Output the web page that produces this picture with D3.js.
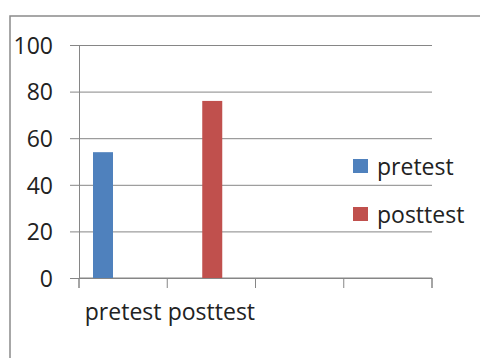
<!DOCTYPE html>
<html>
<head>
<meta charset="utf-8">
<script src="https://cdn.jsdelivr.net/npm/d3@7"></script>
<style>
  body { margin: 0; background: #fff; }
  text { font-family: "Open Sans", sans-serif; fill: #222; }
</style>
</head>
<body>
<div id="chart"></div>
<script>
const categories = ["pretest", "posttest", "", " "];
const seriesNames = ["pretest", "posttest"];
const pretestValues = [54, null, null, null];
const posttestValues = [null, 76, null, null];
const yTicks = [0, 20, 40, 60, 80, 100];

const W = 480, H = 358;
const margin = {top: 45, right: 48, bottom: 80, left: 79},
    width = 432 - margin.left,
    height = 278 - margin.top;
const colors = {pretest: "#4F81BD", posttest: "#C0504D"};
// offset of each series bar inside its band
const barOffset = {pretest: 14, posttest: 35};
const barWidth = 20;
const fontSize = "23px";

const svg = d3.select("#chart").append("svg")
    .attr("width", W)
    .attr("height", H);

// outer chart border (runs off the right/bottom of the picture)
svg.append("rect")
    .attr("x", 10).attr("y", 16)
    .attr("width", W + 10).attr("height", H + 10)
    .attr("fill", "none")
    .attr("stroke", "#8a8a8a")
    .attr("stroke-width", 1.5);

const g = svg.append("g")
    .attr("transform", "translate(" + margin.left + "," + margin.top + ")");

const x = d3.scaleBand()
    .domain(categories)
    .range([0, width]);

const y = d3.scaleLinear()
    .domain([0, 100])
    .range([height, 0]);

// gridlines + y axis
const yAxis = g.append("g")
    .call(d3.axisLeft(y).tickValues(yTicks).tickSize(9).tickPadding(17));
yAxis.select(".domain").attr("stroke", "#868686");
yAxis.selectAll(".tick line").attr("stroke", "#868686")
    .attr("x1", -9)
    .attr("x2", width);
yAxis.selectAll("text")
    .style("font-size", fontSize)
    .attr("dy", "0.36em");

// x axis
const xAxis = g.append("g")
    .attr("transform", "translate(0," + height + ")")
    .call(d3.axisBottom(x).tickSize(10).tickSizeOuter(10));
xAxis.select(".domain").attr("stroke", "#868686")
    .attr("d", "M0,10V0H" + width + "V10");
xAxis.selectAll(".tick line").remove();
// band boundary ticks
xAxis.selectAll(".bound")
    .data(d3.range(categories.length + 1))
    .enter().append("line")
    .attr("x1", i => i * x.bandwidth())
    .attr("x2", i => i * x.bandwidth())
    .attr("y1", 0).attr("y2", 10)
    .attr("stroke", "#868686");
xAxis.selectAll("text")
    .style("font-size", fontSize)
    .attr("y", 42)
    .attr("dy", 0);

const seriesData = [
    {name: "pretest", values: pretestValues},
    {name: "posttest", values: posttestValues}
];

seriesData.forEach(s => {
    g.selectAll(".bar-" + s.name)
        .data(s.values.map((v, i) => ({cat: categories[i], value: v})).filter(d => d.value != null))
        .enter().append("rect")
        .attr("x", d => x(d.cat) + barOffset[s.name])
        .attr("y", d => y(d.value))
        .attr("width", barWidth)
        .attr("height", d => height - y(d.value))
        .attr("fill", colors[s.name]);
});

// legend
const legend = svg.append("g")
    .attr("transform", "translate(353,159)");
seriesNames.forEach((name, i) => {
    const row = legend.append("g").attr("transform", "translate(0," + (i * 48) + ")");
    row.append("rect")
        .attr("width", 15).attr("height", 14)
        .attr("fill", colors[name]);
    row.append("text")
        .attr("x", 24).attr("y", 16)
        .style("font-size", fontSize)
        .text(name);
});
</script>
</body>
</html>
